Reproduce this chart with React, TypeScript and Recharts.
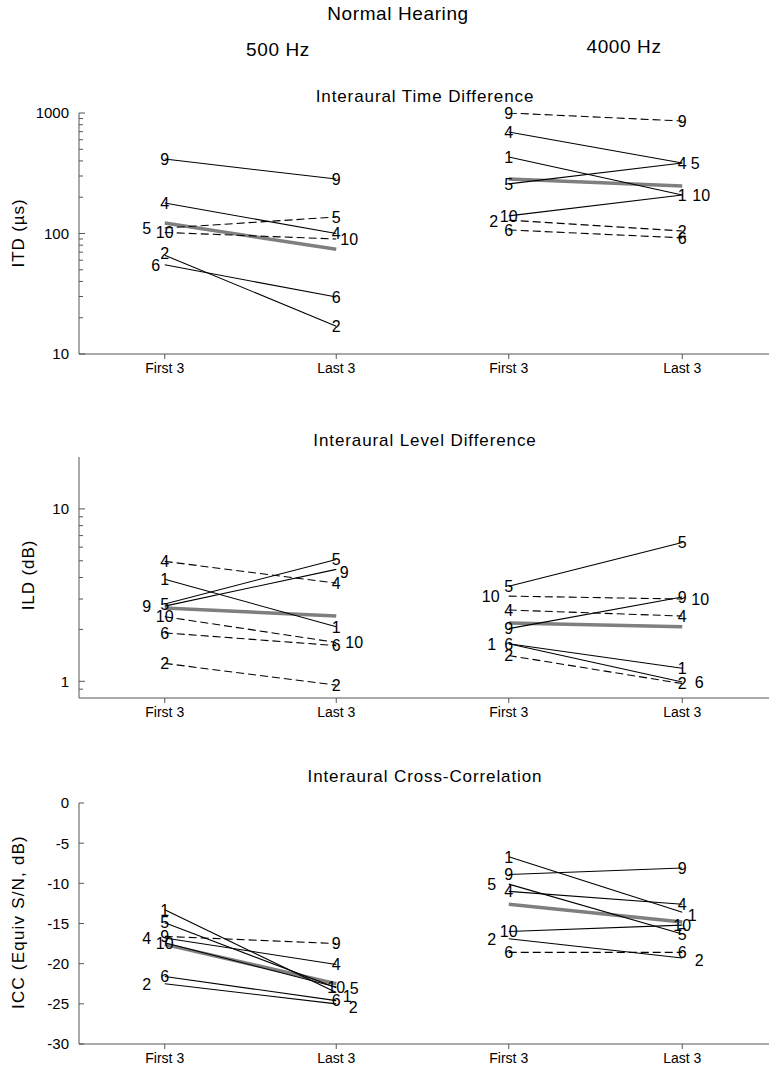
import React from 'react';
import { LineChart, Line, XAxis, YAxis, LabelList } from 'recharts';

// ---------- data ----------
const categories = ['First 3', 'Last 3'];

// ITD (µs), 500 Hz
const itd500Subjects = ['9', '4', '5', '10', '2', '6'];
const itd500First = [415, 179, 111, 102, 66, 55];
const itd500Last = [283, 100, 137, 90, 17, 29.7];
const itd500Dashed = [false, false, true, true, false, false];
const itd500Mean = [122, 74];

// ITD (µs), 4000 Hz
const itd4000Subjects = ['9', '4', '1', '5', '10', '2', '6'];
const itd4000First = [1000, 696, 431, 258, 140, 129, 107];
const itd4000Last = [858, 385, 209, 385, 209, 105, 92];
const itd4000Dashed = [true, false, false, false, false, true, true];
const itd4000Mean = [283, 248];

// ILD (dB), 500 Hz
const ild500Subjects = ['4', '1', '5', '9', '10', '6', '2'];
const ild500First = [4.96, 3.91, 2.81, 2.73, 2.37, 1.91, 1.27];
const ild500Last = [3.71, 2.07, 5.09, 4.46, 1.68, 1.61, 0.95];
const ild500Dashed = [true, false, false, false, true, true, true];
const ild500Mean = [2.66, 2.39];

// ILD (dB), 4000 Hz
const ild4000Subjects = ['5', '10', '4', '9', '1', '6', '2'];
const ild4000First = [3.56, 3.12, 2.59, 2.02, 1.65, 1.65, 1.41];
const ild4000Last = [6.38, 3.0, 2.39, 3.08, 1.19, 0.99, 0.97];
const ild4000Dashed = [false, true, true, false, false, false, true];
const ild4000Mean = [2.18, 2.07];

// ICC (Equiv S/N, dB), 500 Hz
const icc500Subjects = ['1', '5', '4', '9', '10', '6', '2'];
const icc500First = [-13.3, -14.9, -16.8, -16.6, -17.4, -21.6, -22.5];
const icc500Last = [-23.6, -23.0, -20.1, -17.5, -22.9, -24.6, -25.0];
const icc500Dashed = [false, false, false, true, false, false, false];
const icc500Mean = [-17.6, -22.5];

// ICC (Equiv S/N, dB), 4000 Hz
const icc4000Subjects = ['1', '9', '5', '4', '10', '2', '6'];
const icc4000First = [-6.7, -8.9, -10.1, -11.0, -16.0, -16.9, -18.6];
const icc4000Last = [-13.6, -8.1, -16.3, -12.6, -15.2, -19.3, -18.6];
const icc4000Dashed = [false, false, false, false, false, false, true];
const icc4000Mean = [-12.6, -14.8];

// axis ticks
const itdMajorTicks = [10, 100, 1000];
const itdMinorTicks = [20, 30, 40, 50, 60, 70, 80, 90, 200, 300, 400, 500, 600, 700, 800, 900];
const ildMajorTicks = [1, 10];
const ildMinorTicks = [0.9, 2, 3, 4, 5, 6, 7, 8, 9];
const iccTicks = [-30, -25, -20, -15, -10, -5, 0];

// ---------- label placement (layout only: [dx, dy] per end, per subject) ----------
type Off = [number, number];
const itd500Off: Off[][] = [
  [[0, 0], [0, 0]], [[0, 0], [0, 0]], [[-18, 0], [0, 0]], [[0, 0], [13, 0]], [[0, -2], [0, 0]], [[-9, 0], [0, 0]],
];
const itd4000Off: Off[][] = [
  [[0, 0], [0, 0]], [[0, 0], [0, 0]], [[0, 0], [0, 0]], [[0, 0], [13, 0]], [[0, 0], [19, 0]], [[-15, 1], [0, 0]], [[0, 0], [0, 0]],
];
const ild500Off: Off[][] = [
  [[0, 0], [0, 0]], [[0, 0], [0, 0]], [[0, 0], [0, 0]], [[-18, 0], [8, 3]], [[0, 0], [18, 0]], [[0, 0], [0, 0]], [[0, 0], [0, 0]],
];
const ild4000Off: Off[][] = [
  [[0, 0], [0, 0]], [[-18, 0], [18, 0]], [[0, 0], [0, 0]], [[0, 0], [0, 0]], [[-17, 0], [0, 0]], [[0, 0], [17, 0]], [[0, 0], [0, 0]],
];
const icc500Off: Off[][] = [
  [[0, 0], [11, 4]], [[0, 0], [18, 0]], [[-18, 0], [0, 0]], [[0, 0], [0, 0]], [[0, 0], [0, 0]], [[0, 0], [0, 0]], [[-18, 0], [17, 3]],
];
const icc4000Off: Off[][] = [
  [[0, 0], [10, 3]], [[0, 0], [0, 0]], [[-17, 0], [0, 0]], [[0, 0], [0, 0]], [[0, 0], [0, 0]], [[-17, 0], [17, 2]], [[0, 0], [0, 0]],
];

// ---------- style ----------
const FONT = '"Liberation Sans", Arial, Helvetica, sans-serif';
const AXIS = '#555';
const LEFT_X = 79;
const DIV_X = 422;
const RIGHT_X = 769;
const PLOT_H = 241;
const TOP_M = 12;

function buildRows(subjects: string[], first: number[], last: number[], mean: number[]) {
  return categories.map((cat, i) => {
    const row: Record<string, any> = { cat, mean: mean[i] };
    subjects.forEach((_, k) => {
      row['s' + k] = i === 0 ? first[k] : last[k];
    });
    return row;
  });
}

function makeYTick(side: 'left' | 'right', majors: number[], showText: boolean, majorLen: number, minorLen: number) {
  return (props: any) => {
    const { x, y, payload } = props;
    const v = payload.value;
    const major = majors.some((m) => Math.abs(m - v) < 1e-9);
    const len = major ? majorLen : minorLen;
    const x2 = side === 'left' ? x + len : x - len;
    return (
      <g>
        <line x1={x} y1={y} x2={x2} y2={y} stroke={AXIS} strokeWidth={1} />
        {showText && major ? (
          <text x={x - 10} y={y} dy="0.36em" textAnchor="end" fontSize={15} fontFamily={FONT} fill="#000">
            {String(v)}
          </text>
        ) : null}
      </g>
    );
  };
}

function makeLabel(text: string, off: Off[]) {
  return (props: any) => {
    const x = props.x ?? props.viewBox?.x;
    const y = props.y ?? props.viewBox?.y;
    const idx = props.index ?? 0;
    if (x == null || y == null) return null;
    const [dx, dy] = off[idx] || [0, 0];
    return (
      <text x={x + dx} y={y + dy} dy="0.36em" textAnchor="middle" fontSize={16} fontFamily={FONT} fill="#000">
        {text}
      </text>
    );
  };
}

interface PanelProps {
  side: 'left' | 'right';
  top: number;
  subjects: string[];
  first: number[];
  last: number[];
  dashed: boolean[];
  mean: number[];
  offsets: Off[][];
  log: boolean;
  domain: [number, number];
  majors: number[];
  minors: number[];
}

function Panel(p: PanelProps) {
  const rows = buildRows(p.subjects, p.first, p.last, p.mean);
  const isLeft = p.side === 'left';
  const plotW = isLeft ? DIV_X - LEFT_X : RIGHT_X - DIV_X;
  const leftAxisW = isLeft ? LEFT_X : 0;
  const marginLeft = isLeft ? 0 : 5;
  const marginRight = 2;
  const width = marginLeft + leftAxisW + plotW + marginRight;
  const height = TOP_M + PLOT_H + 30;
  const pageLeft = isLeft ? 0 : DIV_X - 5;
  const allTicks = [...p.majors, ...p.minors].sort((a, b) => a - b);
  const majLen = p.log ? 6 : 5;
  const minLen = 4;
  const scale = p.log ? 'log' : 'linear';
  return (
    <div style={{ position: 'absolute', left: pageLeft, top: p.top - TOP_M }}>
      <LineChart
        width={width}
        height={height}
        data={rows}
        margin={{ top: TOP_M, right: marginRight, bottom: 0, left: marginLeft }}
      >
        <XAxis
          xAxisId="b"
          dataKey="cat"
          orientation="bottom"
          height={30}
          padding={{ left: plotW / 4, right: plotW / 4 }}
          interval={0}
          tickSize={5}
          tickMargin={4}
          tickLine={{ stroke: AXIS }}
          axisLine={{ stroke: AXIS }}
          tick={{ fontSize: 14, fill: '#000', fontFamily: FONT }}
        />
        <XAxis
          xAxisId="t"
          dataKey="cat"
          orientation="top"
          height={0}
          tick={false}
          tickLine={false}
          axisLine={{ stroke: AXIS }}
        />
        <YAxis
          yAxisId="l"
          orientation="left"
          type="number"
          scale={scale}
          domain={p.domain}
          allowDataOverflow
          ticks={allTicks}
          interval={0}
          width={leftAxisW}
          tickSize={0}
          tickMargin={0}
          tickLine={false}
          axisLine={{ stroke: AXIS }}
          tick={makeYTick('left', p.majors, isLeft, majLen, minLen)}
        />
        <YAxis
          yAxisId="r"
          orientation="right"
          type="number"
          scale={scale}
          domain={p.domain}
          allowDataOverflow
          ticks={allTicks}
          interval={0}
          width={0}
          tickSize={0}
          tickMargin={0}
          tickLine={false}
          axisLine={{ stroke: AXIS }}
          tick={makeYTick('right', p.majors, false, majLen, minLen)}
        />
        <Line
          xAxisId="b"
          yAxisId="l"
          dataKey="mean"
          stroke="#7f7f7f"
          strokeWidth={3.5}
          dot={false}
          activeDot={false}
          isAnimationActive={false}
        />
        {p.subjects.map((s, k) => (
          <Line
            key={s + '-' + k}
            xAxisId="b"
            yAxisId="l"
            dataKey={'s' + k}
            stroke="#000"
            strokeWidth={1.1}
            strokeDasharray={p.dashed[k] ? '8 4' : undefined}
            dot={false}
            activeDot={false}
            isAnimationActive={false}
          >
            <LabelList dataKey={'s' + k} content={makeLabel(s, p.offsets[k])} />
          </Line>
        ))}
      </LineChart>
    </div>
  );
}

const textStyle: React.CSSProperties = {
  position: 'absolute',
  whiteSpace: 'nowrap',
  lineHeight: 1,
  fontFamily: FONT,
  color: '#000',
  transform: 'translate(-50%, -50%)',
};

function Title({ x, y, size, text, spacing = 0 }: { x: number; y: number; size: number; text: string; spacing?: number }) {
  return <div style={{ ...textStyle, left: x, top: y, fontSize: size, letterSpacing: spacing }}>{text}</div>;
}

function VTitle({ x, y, size, text, spacing = 0 }: { x: number; y: number; size: number; text: string; spacing?: number }) {
  return (
    <div
      style={{
        ...textStyle,
        left: x,
        top: y,
        fontSize: size,
        letterSpacing: spacing,
        transform: 'translate(-50%, -50%) rotate(-90deg)',
      }}
    >
      {text}
    </div>
  );
}

export default function App() {
  const ROW1 = 113;
  const ROW2 = 457;
  const ROW3 = 803;
  return (
    <div style={{ position: 'absolute', left: 0, top: 0, width: 771, height: 1072, background: '#fff', overflow: 'hidden' }}>
      <Title x={398} y={13} size={19} text="Normal Hearing" spacing={0.6} />
      <Title x={278} y={49} size={19} text="500 Hz" spacing={0.6} />
      <Title x={624} y={46} size={19} text="4000 Hz" spacing={0.6} />

      <Title x={425} y={96} size={17} text="Interaural Time Difference" spacing={0.9} />
      <Title x={425} y={440} size={17} text="Interaural Level Difference" spacing={0.9} />
      <Title x={425} y={776} size={17} text="Interaural Cross-Correlation" spacing={0.9} />

      <VTitle x={18} y={233} size={17} text="ITD (µs)" spacing={0.9} />
      <VTitle x={28} y={575} size={17} text="ILD (dB)" spacing={0.9} />
      <VTitle x={18} y={922} size={17} text="ICC (Equiv S/N, dB)" spacing={1.2} />

      <Panel side="left" top={ROW1} subjects={itd500Subjects} first={itd500First} last={itd500Last} dashed={itd500Dashed} mean={itd500Mean} offsets={itd500Off} log domain={[10, 1000]} majors={itdMajorTicks} minors={itdMinorTicks} />
      <Panel side="right" top={ROW1} subjects={itd4000Subjects} first={itd4000First} last={itd4000Last} dashed={itd4000Dashed} mean={itd4000Mean} offsets={itd4000Off} log domain={[10, 1000]} majors={itdMajorTicks} minors={itdMinorTicks} />

      <Panel side="left" top={ROW2} subjects={ild500Subjects} first={ild500First} last={ild500Last} dashed={ild500Dashed} mean={ild500Mean} offsets={ild500Off} log domain={[0.8, 20]} majors={ildMajorTicks} minors={ildMinorTicks} />
      <Panel side="right" top={ROW2} subjects={ild4000Subjects} first={ild4000First} last={ild4000Last} dashed={ild4000Dashed} mean={ild4000Mean} offsets={ild4000Off} log domain={[0.8, 20]} majors={ildMajorTicks} minors={ildMinorTicks} />

      <Panel side="left" top={ROW3} subjects={icc500Subjects} first={icc500First} last={icc500Last} dashed={icc500Dashed} mean={icc500Mean} offsets={icc500Off} log={false} domain={[-30, 0]} majors={iccTicks} minors={[]} />
      <Panel side="right" top={ROW3} subjects={icc4000Subjects} first={icc4000First} last={icc4000Last} dashed={icc4000Dashed} mean={icc4000Mean} offsets={icc4000Off} log={false} domain={[-30, 0]} majors={iccTicks} minors={[]} />
    </div>
  );
}
